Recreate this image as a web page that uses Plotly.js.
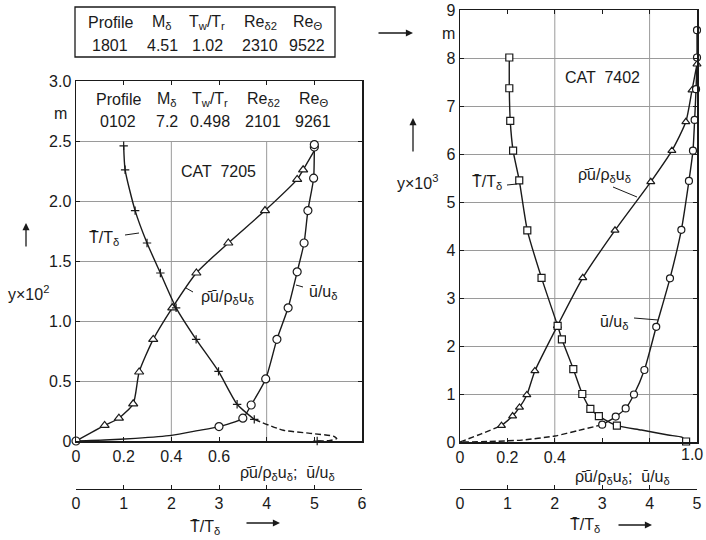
<!DOCTYPE html>
<html><head><meta charset="utf-8">
<script src="https://cdn.plot.ly/plotly-3.0.1.min.js"></script>
<style>html,body{margin:0;padding:0;background:#fff}#chart{width:706px;height:540px}</style>
</head><body><div id="chart"></div>
<script>
// ---------- Left panel: CAT 7205, profile 0102 (y in 10^-2 m) ----------
const leftUMarkX = [0, 0.60, 0.70, 0.735, 0.796, 0.843, 0.89, 0.928, 0.957, 0.973, 0.997, 1.0, 1.0];
const leftUMarkY = [0, 0.12, 0.19, 0.30, 0.517, 0.847, 1.11, 1.41, 1.65, 1.92, 2.19, 2.45, 2.47];
const leftUPathX = [0, 0.12, 0.25, 0.40, 0.51, 0.60, 0.70, 0.735, 0.796, 0.843, 0.89, 0.928, 0.957, 0.973, 0.997, 1.0, 1.0];
const leftUPathY = [0, 0.008, 0.022, 0.047, 0.086, 0.12, 0.19, 0.30, 0.517, 0.847, 1.11, 1.41, 1.65, 1.92, 2.19, 2.45, 2.47];

const leftRhoMarkX = [0.12, 0.18, 0.24, 0.265, 0.324, 0.404, 0.505, 0.639, 0.793, 0.928, 0.953];
const leftRhoMarkY = [0.13, 0.19, 0.31, 0.575, 0.847, 1.11, 1.40, 1.65, 1.92, 2.18, 2.26];
const leftRhoPathX = [0, 0.12, 0.18, 0.24, 0.265, 0.324, 0.404, 0.505, 0.639, 0.793, 0.928, 0.953, 1.0];
const leftRhoPathY = [0, 0.13, 0.19, 0.31, 0.575, 0.847, 1.11, 1.40, 1.65, 1.92, 2.18, 2.26, 2.42];

// T/T_delta (bottom scale)
const leftTMarkX = [1.0, 1.03, 1.24, 1.49, 1.77, 2.10, 2.52, 2.99, 3.38, 3.74, 5.06];
const leftTMarkY = [2.46, 2.26, 1.92, 1.65, 1.40, 1.11, 0.847, 0.58, 0.306, 0.18, 0];
const leftTSolidX = [1.0, 1.03, 1.24, 1.49, 1.77, 2.10, 2.52, 2.99, 3.38, 3.74];
const leftTSolidY = [2.46, 2.26, 1.92, 1.65, 1.40, 1.11, 0.847, 0.58, 0.306, 0.18];
const leftTDashX = [3.74, 4.35, 4.91, 5.40, 5.47, 5.33, 5.06];
const leftTDashY = [0.18, 0.09, 0.064, 0.04, 0.02, 0.004, 0];

// ---------- Right panel: CAT 7402, profile 1801 (y in 10^-3 m) ----------
const rightTMarkX = [1.04, 1.04, 1.06, 1.12, 1.25, 1.42, 1.72, 2.06, 2.15, 2.39, 2.58, 2.75, 2.93, 3.31, 4.77];
const rightTMarkY = [8.01, 7.37, 6.69, 6.07, 5.45, 4.41, 3.42, 2.42, 2.14, 1.52, 1.00, 0.69, 0.54, 0.34, 0.01];
const rightTPathX = [1.04, 1.04, 1.06, 1.12, 1.25, 1.42, 1.72, 2.06, 2.15, 2.39, 2.58, 2.75, 2.93, 3.31, 3.83, 4.39, 4.68, 4.77];
const rightTPathY = [8.01, 7.37, 6.69, 6.07, 5.45, 4.41, 3.42, 2.42, 2.14, 1.52, 1.00, 0.69, 0.54, 0.34, 0.25, 0.146, 0.10, 0.01];

const rightRhoMarkX = [0.175, 0.222, 0.251, 0.282, 0.316, 0.411, 0.518, 0.654, 0.805, 0.894, 0.953, 0.979, 1.0];
const rightRhoMarkY = [0.34, 0.54, 0.72, 0.98, 1.48, 2.42, 3.42, 4.41, 5.42, 6.07, 6.67, 7.33, 7.87];
const rightRhoDashX = [0, 0.09, 0.175];
const rightRhoDashY = [0, 0.17, 0.34];

const rightUMarkX = [1.0, 1.0, 0.996, 0.99, 0.983, 0.966, 0.934, 0.886, 0.828, 0.778, 0.734, 0.699, 0.657, 0.60];
const rightUMarkY = [8.58, 8.01, 7.35, 6.71, 6.07, 5.44, 4.42, 3.41, 2.40, 1.50, 0.99, 0.70, 0.53, 0.36];
const rightUDashX = [0.60, 0.50, 0.40, 0.26, 0.12, 0];
const rightUDashY = [0.36, 0.24, 0.125, 0.04, 0.01, 0];

// ---------- Tick labels ----------
const leftYTicks = [0, 0.5, 1.0, 1.5, 2.0, 2.5, 3.0];
const leftYText = ['0', '0.5', '1.0', '1.5', '2.0', '2.5', '3.0'];
const leftXTicks = [0, 0.2, 0.4, 0.6, 0.8, 1.0, 1.2];
const leftXText = ['0', '0.2', '0.4', '0.6', '', '', ''];
const leftTTicks = [0, 1, 2, 3, 4, 5, 6];
const rightYTicks = [0, 1, 2, 3, 4, 5, 6, 7, 8, 9];
const rightXTicks = [0, 0.2, 0.4, 0.6, 0.8, 1.0];
const rightXText = ['0', '0.2', '0.4', '', '', ''];
const rightXEndLabel = '1.0';
const rightTTicks = [0, 1, 2, 3, 4, 5];

// Tables
const tableHead = ['Profile', 'M<sub>δ</sub>', 'T<sub>w</sub>/T<sub>r</sub>', 'Re<sub>δ2</sub>', 'Re<sub>Θ</sub>'];
const tableTop = ['1801', '4.51', '1.02', '2310', '9522'];
const tableLeft = ['0102', '7.2', '0.498', '2101', '9261'];

// ---------- helpers ----------
const W = 706, H = 540;
const px = x => x / W, py = y => 1 - y / H;
const INK = '#1a1a1a';
const FONT = 'Liberation Sans, Arial, sans-serif';

function line(x, y, xa, ya, dash) {
  return {x, y, xaxis: xa, yaxis: ya, type: 'scatter', mode: 'lines', hoverinfo: 'skip',
    line: {color: INK, width: 1.4, shape: 'spline', smoothing: 0.6, dash: dash || 'solid'}};
}
function marks(x, y, xa, ya, symbol, size) {
  return {x, y, xaxis: xa, yaxis: ya, type: 'scatter', mode: 'markers', cliponaxis: false,
    marker: {symbol, size, color: symbol.indexOf('cross') >= 0 ? INK : '#fff', line: {color: INK, width: 1.2}}};
}

const traces = [
  line(leftUPathX, leftUPathY, 'x', 'y'),
  line(leftRhoPathX, leftRhoPathY, 'x', 'y'),
  line(leftTSolidX, leftTSolidY, 'x3', 'y'),
  line(leftTDashX, leftTDashY, 'x3', 'y', '6px,3px'),
  marks(leftUMarkX, leftUMarkY, 'x', 'y', 'circle', 8),
  marks(leftRhoMarkX, leftRhoMarkY, 'x', 'y', 'triangle-up', 8),
  marks(leftTMarkX, leftTMarkY, 'x3', 'y', 'cross-thin-open', 6),

  line(rightTPathX, rightTPathY, 'x4', 'y2'),
  line(rightRhoMarkX, rightRhoMarkY, 'x2', 'y2'),
  line(rightRhoDashX, rightRhoDashY, 'x2', 'y2', '6px,3px'),
  line(rightUMarkX, rightUMarkY, 'x2', 'y2'),
  line(rightUDashX, rightUDashY, 'x2', 'y2', '6px,3px'),
  marks(rightTMarkX, rightTMarkY, 'x4', 'y2', 'square', 7),
  marks(rightRhoMarkX, rightRhoMarkY, 'x2', 'y2', 'triangle-up', 7),
  marks(rightUMarkX, rightUMarkY, 'x2', 'y2', 'circle', 7)
];

const axBase = {showline: true, linecolor: INK, linewidth: 1.5, ticks: 'inside', ticklen: 4,
  tickcolor: INK, zeroline: false, tickfont: {size: 16, color: INK, family: FONT}, fixedrange: true,
  ticklabeloverflow: 'allow'};

const layout = {
  width: W, height: H, margin: {l: 0, r: 0, t: 0, b: 0},
  paper_bgcolor: '#fff', plot_bgcolor: '#fff', showlegend: false,
  font: {family: FONT, color: INK, size: 16},
  xaxis: Object.assign({}, axBase, {domain: [px(76), px(362)], range: [0, 1.2], anchor: 'y',
    mirror: 'ticks', showgrid: false, tickvals: leftXTicks, ticktext: leftXText}),
  yaxis: Object.assign({}, axBase, {domain: [py(441), py(81)], range: [0, 3], anchor: 'x',
    mirror: 'ticks', showgrid: true, gridcolor: '#9a9a9a', gridwidth: 1,
    tickvals: leftYTicks, ticktext: leftYText}),
  xaxis3: Object.assign({}, axBase, {overlaying: 'x', anchor: 'free', position: py(489), side: 'bottom',
    range: [0, 6], tickvals: leftTTicks, showgrid: false, linewidth: 1.2}),
  xaxis2: Object.assign({}, axBase, {domain: [px(460), px(697)], range: [0, 1], anchor: 'y2',
    mirror: 'ticks', showgrid: false, tickvals: rightXTicks, ticktext: rightXText}),
  yaxis2: Object.assign({}, axBase, {domain: [py(442), py(10)], range: [0, 9], anchor: 'x2',
    mirror: 'ticks', showgrid: true, gridcolor: '#9a9a9a', gridwidth: 1, tickvals: rightYTicks}),
  xaxis4: Object.assign({}, axBase, {overlaying: 'x2', anchor: 'free', position: py(489), side: 'bottom',
    range: [0, 5], tickvals: rightTTicks, showgrid: false, linewidth: 1.2}),
  shapes: [],
  annotations: []
};

// vertical grid lines
[0.4, 0.8].forEach(v => {
  layout.shapes.push({type: 'line', xref: 'x', yref: 'y', x0: v, x1: v, y0: 0, y1: 2.5,
    line: {color: '#9a9a9a', width: 1}, layer: 'below'});
  layout.shapes.push({type: 'line', xref: 'x2', yref: 'y2', x0: v, x1: v, y0: 0, y1: 9,
    line: {color: '#9a9a9a', width: 1}, layer: 'below'});
});
// top table box
layout.shapes.push({type: 'rect', xref: 'paper', yref: 'paper', x0: px(75), x1: px(335), y0: py(57), y1: py(7),
  line: {color: INK, width: 1.3}});
// leader lines
[[125, 235, 139, 233], [193, 292, 186, 288], [296, 285, 303, 287],
 [507, 185, 517, 184], [613, 187, 637, 197], [634, 318, 658, 320]].forEach(l => {
  layout.shapes.push({type: 'line', xref: 'paper', yref: 'paper', x0: px(l[0]), y0: py(l[1]),
    x1: px(l[2]), y1: py(l[3]), line: {color: INK, width: 1}});
});

function lab(text, x, y, size, anchor) {
  layout.annotations.push({text, x: px(x), y: py(y), xref: 'paper', yref: 'paper', showarrow: false,
    xanchor: anchor || 'center', yanchor: 'middle', font: {size: size || 16, color: INK, family: FONT}});
}
function arrow(hx, hy, tx, ty) {
  layout.annotations.push({text: '', x: px(hx), y: py(hy), xref: 'paper', yref: 'paper', showarrow: true,
    ax: tx - hx, ay: ty - hy, arrowhead: 2, arrowsize: 1.1, arrowwidth: 1.3, arrowcolor: INK});
}

const topCols = [110, 162, 207, 260, 307];
const leftCols = [118, 167, 210, 263, 313];
tableHead.forEach((t, i) => { lab(t, topCols[i], 22); lab(t, leftCols[i], 100); });
tableTop.forEach((t, i) => lab(t, topCols[i], 45));
tableLeft.forEach((t, i) => lab(t, leftCols[i], 122));

lab('CAT  7205', 218, 171);
lab('CAT  7402', 602, 78);
lab('m', 60, 113);
lab('m', 448, 33);
lab('y×10<sup>2</sup>', 28, 293);
lab('y×10<sup>3</sup>', 417, 182);
lab('T̄/T<sub>δ</sub>', 104, 238);
lab('ρ̄ū/ρ<sub>δ</sub>u<sub>δ</sub>', 227, 297);
lab('ū/u<sub>δ</sub>', 323, 292);
lab('T̄/T<sub>δ</sub>', 487, 182);
lab('ρ̄ū/ρ<sub>δ</sub>u<sub>δ</sub>', 604, 175);
lab('ū/u<sub>δ</sub>', 614, 322);
lab('ρ̄ū/ρ<sub>δ</sub>u<sub>δ</sub>;  ū/u<sub>δ</sub>', 287, 473);
lab('ρ̄ū/ρ<sub>δ</sub>u<sub>δ</sub>;  ū/u<sub>δ</sub>', 622, 477);
lab('T̄/T<sub>δ</sub>', 205, 527);
lab('T̄/T<sub>δ</sub>', 585, 525);
lab(rightXEndLabel, 705, 454, 16, 'right');

arrow(413, 33, 377, 33);
arrow(26, 223, 26, 248);
arrow(413, 118, 413, 153);
arrow(280, 523, 245, 523);
arrow(652, 525, 617, 525);

Plotly.newPlot('chart', traces, layout, {displayModeBar: false, staticPlot: true});
</script>
</body></html>
